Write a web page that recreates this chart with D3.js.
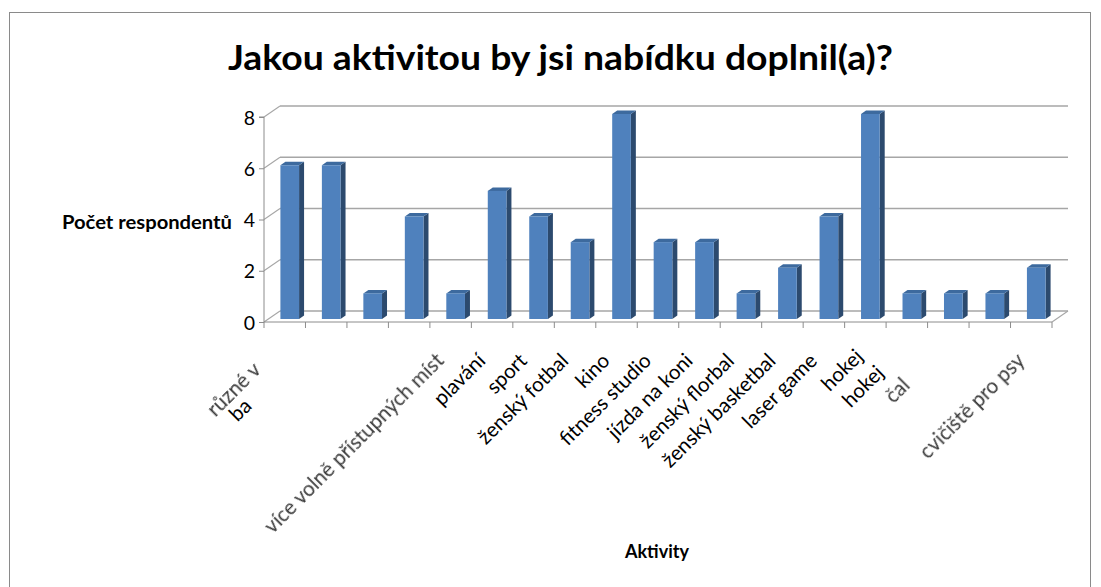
<!DOCTYPE html>
<html><head><meta charset="utf-8">
<script src="https://cdn.jsdelivr.net/npm/d3@7"></script>
<style>body{margin:0;background:#fff}</style>
</head><body><svg id="c" width="1101" height="587"></svg>
<script>
// ---- data ----
const categories = ["různé v\nba", "", "", "více volně přístupných míst", "plavání", "sport", "ženský fotbal", "kino", "fitness studio", "jízda na koni", "ženský florbal", "ženský basketbal", "laser game", "hokej", "hokej", "čal", "", "cvičiště pro psy", ""];
const values = [6, 6, 1, 4, 1, 5, 4, 3, 8, 3, 3, 1, 2, 4, 8, 1, 1, 1, 2];
const yTicks = [0, 2, 4, 6, 8];
const title = "Jakou aktivitou by jsi nabídku doplnil(a)?";
const yTitle = "Počet respondentů";
const xTitle = "Aktivity";

// ---- layout (label line offsets: a = along text, b = perpendicular) ----
const labelOffsets = {0: [{a: -48, b: 35}, {a: -80, b: 16}], 13: [{a: 6, b: 0}], 14: [{a: -20, b: 3}], 15: [{a: -40, b: 5}]};
const softLabels = new Set([3, 15, 17]);

const svg = d3.select('#c');
const font = "Lato, 'Open Sans', sans-serif";
const x = d3.scaleBand().domain(d3.range(categories.length)).range([264, 1052]);
const y = d3.scaleLinear().domain([0, 8]).range([322, 117]);
const D = {dx: 16, dy: -11};
const gridC = "#a6a6a6", axisC = "#8c8c8c";

const defs = svg.append('defs');
defs.append('filter').attr('id', 'soft').append('feGaussianBlur').attr('stdDeviation', 0.45);

// frame
svg.append('rect').attr('x', 9.5).attr('y', 12.5).attr('width', 1081).attr('height', 600)
  .attr('fill', 'none').attr('stroke', '#8a8a8a');

// back wall gridlines
svg.append('g').selectAll('line').data(yTicks).join('line')
  .attr('x1', x.range()[0] + D.dx).attr('x2', x.range()[1] + D.dx)
  .attr('y1', d => y(d) + D.dy).attr('y2', d => y(d) + D.dy)
  .attr('stroke', gridC).attr('stroke-width', 1.3);
// side wall diagonals
svg.append('g').selectAll('line').data(yTicks).join('line')
  .attr('x1', x.range()[0]).attr('x2', x.range()[0] + D.dx)
  .attr('y1', d => y(d)).attr('y2', d => y(d) + D.dy)
  .attr('stroke', gridC).attr('stroke-width', 1.1);
// floor right diagonal
svg.append('line').attr('x1', x.range()[1]).attr('y1', y(0)).attr('x2', x.range()[1] + D.dx).attr('y2', y(0) + D.dy)
  .attr('stroke', gridC).attr('stroke-width', 1.1);

// y axis
const yAxis = d3.axisLeft(y).tickValues(yTicks).tickSize(5).tickPadding(4).tickFormat(d3.format('d'));
const gy = svg.append('g').attr('transform', `translate(${x.range()[0]},0)`).call(yAxis);
gy.select('.domain').attr('stroke', axisC).attr('d', `M-5,${y(8)}H0V${y(0)}`);
gy.selectAll('.tick line').attr('stroke', axisC);
gy.selectAll('.tick text').attr('font-family', font).attr('font-size', 19.5).attr('fill', '#000').attr('dy', '0.36em');

// x axis (floor front edge + ticks at band boundaries)
const bounds = d3.range(categories.length + 1).map(i => x.range()[0] + i * x.step());
svg.append('line').attr('x1', x.range()[0]).attr('x2', x.range()[1]).attr('y1', y(0)).attr('y2', y(0)).attr('stroke', axisC);
svg.append('g').selectAll('line').data(bounds).join('line')
  .attr('x1', d => d).attr('x2', d => d).attr('y1', y(0)).attr('y2', y(0) + 6).attr('stroke', axisC);

// bars (3D)
const bw = x.step() * 0.45, off = {dx: 5, dy: -3}, bd = {dx: 5, dy: -3.5};
const bars = svg.append('g').selectAll('g').data(values).join('g');
bars.each(function (v, i) {
  const g = d3.select(this);
  const xl = x(i) + (x.step() - bw) / 2 + off.dx, xr = xl + bw;
  const yt = y(v) + off.dy, yb = y(0) + off.dy;
  g.append('path').attr('d', `M${xr},${yt}L${xr + bd.dx},${yt + bd.dy}L${xr + bd.dx},${yb + bd.dy}L${xr},${yb}Z`).attr('fill', '#2c4a6e');
  g.append('path').attr('d', `M${xl},${yt}L${xl + bd.dx},${yt + bd.dy}L${xr + bd.dx},${yt + bd.dy}L${xr},${yt}Z`).attr('fill', '#3d6a9e');
  g.append('rect').attr('x', xl).attr('y', yt).attr('width', bw).attr('height', yb - yt).attr('fill', '#4f81bd');
});

// category labels
const u = [Math.SQRT1_2, -Math.SQRT1_2], vv = [-Math.SQRT1_2, -Math.SQRT1_2];
const lg = svg.append('g');
categories.forEach((c, i) => {
  if (!c) return;
  const lines = c.split('\n');
  const cx = x(i) + x.step() / 2;
  const E = [cx + 36, 362];
  lines.forEach((t, j) => {
    const o = (labelOffsets[i] && labelOffsets[i][j]) || {a: 0, b: 0};
    const px = E[0] + o.a * u[0] + o.b * vv[0], py = E[1] + o.a * u[1] + o.b * vv[1];
    const soft = softLabels.has(i) || (i === 0 && j === 0);
    lg.append('text').attr('transform', `translate(${px},${py}) rotate(-45)`)
      .attr('text-anchor', 'end').attr('font-family', font).attr('font-size', 20.5)
      .attr('fill', soft ? '#3a3a3a' : '#000').attr('filter', soft ? 'url(#soft)' : null).text(t);
  });
});

// titles
svg.append('text').attr('x', 228).attr('y', 70).attr('font-family', font).attr('font-weight', 'bold')
  .attr('font-size', 34).attr('textLength', 665).attr('lengthAdjust', 'spacingAndGlyphs').text(title);
svg.append('text').attr('x', 232).attr('y', 229).attr('text-anchor', 'end').attr('font-family', font).attr('font-weight', 'bold')
  .attr('font-size', 18).attr('textLength', 170).attr('lengthAdjust', 'spacingAndGlyphs').text(yTitle);
svg.append('text').attr('x', 657).attr('y', 558).attr('text-anchor', 'middle').attr('font-family', font).attr('font-weight', 'bold')
  .attr('font-size', 18).text(xTitle);
</script></body></html>
